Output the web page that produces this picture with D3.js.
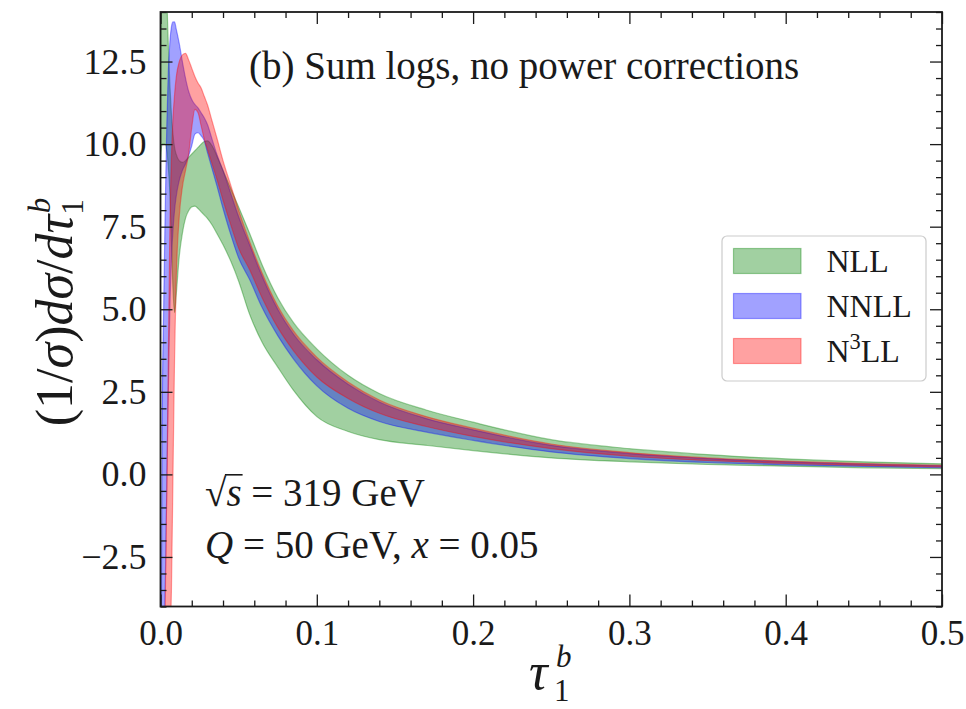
<!DOCTYPE html>
<html>
<head>
<meta charset="utf-8">
<script src="https://cdn.jsdelivr.net/npm/d3@7"></script>
<style>
  body { margin: 0; background: #fff; }
  svg { display: block; }
  text { font-family: "Liberation Serif", "DejaVu Serif", serif; fill: #1a1a1a; }
</style>
</head>
<body>
<svg id="chart" width="966" height="709"></svg>
<script>
// tau_1^b sample points and the scale-variation envelopes for each order
const tau = [0, 0.001, 0.002, 0.003, 0.004, 0.005, 0.006, 0.007, 0.008, 0.009,
             0.010, 0.012, 0.014, 0.016, 0.018, 0.020, 0.022, 0.024, 0.026, 0.028,
             0.030, 0.033, 0.036, 0.040, 0.045, 0.050, 0.057, 0.065, 0.075, 0.085,
             0.100, 0.120, 0.140, 0.170, 0.200, 0.250, 0.300, 0.350, 0.400, 0.450, 0.500];

const nllLo = [9.5, 10, 10, 10, 9.8, 9.3, 8.5, 7.0, 5.6, 4.9,
               5.4, 6.6, 7.3, 7.75, 7.98, 8.1, 8.12, 8.05, 7.95, 7.85,
               7.75, 7.55, 7.3, 6.95, 6.45, 5.85, 4.85, 4.0, 3.25, 2.55,
               1.75, 1.3, 1.05, 0.88, 0.72, 0.5, 0.38, 0.3, 0.25, 0.2, 0.17];
const nllHi = [12, 16, 16, 15.5, 14.5, 13, 11.8, 10.9, 10.3, 9.9,
               9.7, 9.5, 9.45, 9.5, 9.6, 9.7, 9.8, 9.9, 10.0, 10.08,
               10.1, 9.95, 9.65, 9.2, 8.65, 8.1, 7.3, 6.35, 5.35, 4.6,
               3.8, 3.0, 2.45, 1.95, 1.58, 1.05, 0.78, 0.6, 0.47, 0.38, 0.32];

const nnllLo = [-14, -9, -6, -3.5, -0.5, 2.5, 5, 6.5, 7.4, 8.0,
                8.4, 8.9, 9.2, 9.4, 9.65, 9.95, 10.3, 10.35, 10.25, 10.1,
                9.75, 9.25, 8.75, 8.05, 7.25, 6.55, 5.9, 5.05, 4.2, 3.5,
                2.68, 2.0, 1.6, 1.28, 1.03, 0.68, 0.48, 0.36, 0.29, 0.24, 0.2];
const nnllHi = [-12, 1, 5, 8, 10.5, 12.2, 13.1, 13.55, 13.7, 13.7,
                13.5, 13.05, 12.5, 12.0, 11.6, 11.35, 11.2, 11.1, 10.95, 10.8,
                10.6, 10.15, 9.7, 9.2, 8.5, 7.8, 6.95, 6.0, 5.0, 4.25,
                3.47, 2.73, 2.19, 1.69, 1.35, 0.88, 0.63, 0.48, 0.38, 0.31, 0.26];

const n3llLo = [-16, -15, -14, -12, -10, -8, -5.5, -3.5, 0, 3.5,
                5.8, 7.8, 8.7, 9.2, 9.7, 10.5, 11.05, 10.95, 10.55, 10.15,
                9.85, 9.4, 8.95, 8.3, 7.55, 6.85, 6.2, 5.35, 4.45, 3.75,
                2.95, 2.3, 1.85, 1.45, 1.15, 0.78, 0.55, 0.42, 0.33, 0.27, 0.23];
const n3llHi = [-14, -10, -7, -4, -0.5, 3.5, 7.5, 9.6, 10.8, 11.5,
                12.0, 12.5, 12.7, 12.75, 12.55, 12.3, 12.05, 11.85, 11.7, 11.45,
                11.2, 10.7, 10.2, 9.5, 8.75, 8.0, 7.05, 6.1, 5.1, 4.35,
                3.55, 2.8, 2.25, 1.75, 1.4, 0.92, 0.66, 0.5, 0.4, 0.33, 0.27];

const seriesKeys   = ["NLL", "NNLL", "N3LL"];
const seriesColors = ["#008000", "#0000ff", "#ff0000"];

const xTicks = [0, 0.1, 0.2, 0.3, 0.4, 0.5];
const yTicks = [-2.5, 0, 2.5, 5, 7.5, 10, 12.5];
const xDomain = [0, 0.5];
const yDomain = [-4, 14];

// ---- layout ----
const plot = { left: 160.5, right: 942, top: 12, bottom: 606.5 };
const bandAlpha = 0.37;

const svg = d3.select("#chart");

const x = d3.scaleLinear().domain(xDomain).range([plot.left, plot.right]);
const y = d3.scaleLinear().domain(yDomain).range([plot.bottom, plot.top]);

svg.append("defs").append("clipPath").attr("id", "plot-clip")
  .append("rect")
  .attr("x", plot.left).attr("y", plot.top)
  .attr("width", plot.right - plot.left).attr("height", plot.bottom - plot.top);

// ---- uncertainty bands ----
const bands = [
  { key: seriesKeys[0], color: seriesColors[0], lo: nllLo,  hi: nllHi  },
  { key: seriesKeys[1], color: seriesColors[1], lo: nnllLo, hi: nnllHi },
  { key: seriesKeys[2], color: seriesColors[2], lo: n3llLo, hi: n3llHi }
];

const area = d3.area()
  .x(d => x(d.t))
  .y0(d => y(d.lo))
  .y1(d => y(d.hi))
  .curve(d3.curveMonotoneX);

const bandLayer = svg.append("g").attr("clip-path", "url(#plot-clip)");
bands.forEach(b => {
  const rows = tau.map((t, i) => ({ t, lo: b.lo[i], hi: b.hi[i] }));
  bandLayer.append("path")
    .datum(rows)
    .attr("d", area)
    .attr("fill", b.color)
    .attr("fill-opacity", bandAlpha)
    .attr("stroke", b.color)
    .attr("stroke-opacity", bandAlpha)
    .attr("stroke-width", 1.2);
});

// ---- axes: inward ticks on all four sides ----
const majorLen = 12, minorLen = 6;
const xMinor = d3.range(0, 0.5001, 0.02).filter(v => !xTicks.some(t => Math.abs(t - v) < 1e-9));
const yMinor = d3.range(-4, 14.001, 0.5).filter(v => !yTicks.some(t => Math.abs(t - v) < 1e-9));

function styleAxis(g, showLabels, fontSize) {
  g.select(".domain").remove();
  g.selectAll(".tick line").attr("stroke", "#1a1a1a").attr("stroke-width", 1.3);
  if (!showLabels) g.selectAll(".tick text").remove();
  else g.selectAll(".tick text")
        .attr("font-size", fontSize).attr("fill", "#1a1a1a");
}

// bottom
svg.append("g").attr("transform", `translate(0,${plot.bottom})`)
  .call(d3.axisBottom(x).tickValues(xMinor).tickSize(-minorLen).tickFormat(""))
  .call(g => styleAxis(g, false));
svg.append("g").attr("transform", `translate(0,${plot.bottom})`)
  .call(d3.axisBottom(x).tickValues(xTicks).tickSizeInner(-majorLen).tickSizeOuter(0)
        .tickPadding(14).tickFormat(d3.format(".1f")))
  .call(g => styleAxis(g, true, 35));
// top
svg.append("g").attr("transform", `translate(0,${plot.top})`)
  .call(d3.axisTop(x).tickValues(xMinor).tickSize(-minorLen).tickFormat(""))
  .call(g => styleAxis(g, false));
svg.append("g").attr("transform", `translate(0,${plot.top})`)
  .call(d3.axisTop(x).tickValues(xTicks).tickSize(-majorLen).tickFormat(""))
  .call(g => styleAxis(g, false));
// left
svg.append("g").attr("transform", `translate(${plot.left},0)`)
  .call(d3.axisLeft(y).tickValues(yMinor).tickSize(-minorLen).tickFormat(""))
  .call(g => styleAxis(g, false));
svg.append("g").attr("transform", `translate(${plot.left},0)`)
  .call(d3.axisLeft(y).tickValues(yTicks).tickSizeInner(-majorLen).tickSizeOuter(0)
        .tickPadding(14).tickFormat(d3.format(".1f")))
  .call(g => styleAxis(g, true, 36));
// right
svg.append("g").attr("transform", `translate(${plot.right},0)`)
  .call(d3.axisRight(y).tickValues(yMinor).tickSize(-minorLen).tickFormat(""))
  .call(g => styleAxis(g, false));
svg.append("g").attr("transform", `translate(${plot.right},0)`)
  .call(d3.axisRight(y).tickValues(yTicks).tickSize(-majorLen).tickFormat(""))
  .call(g => styleAxis(g, false));

// frame
svg.append("rect")
  .attr("x", plot.left).attr("y", plot.top)
  .attr("width", plot.right - plot.left).attr("height", plot.bottom - plot.top)
  .attr("fill", "none").attr("stroke", "#1a1a1a").attr("stroke-width", 1.8);

// ---- axis labels ----
const labFs = 52, scrFs = 31;

// x label: tau with stacked subscript 1 and superscript b
svg.append("text").attr("x", 529).attr("y", 689).attr("font-size", labFs)
  .attr("font-style", "italic").text("τ");
svg.append("text").attr("x", 556).attr("y", 667).attr("font-size", scrFs)
  .attr("font-style", "italic").text("b");
svg.append("text").attr("x", 554).attr("y", 701).attr("font-size", scrFs).text("1");

// y label, rotated
const yLab = svg.append("text")
  .attr("transform", "translate(72,312) rotate(-90)")
  .attr("text-anchor", "middle").attr("font-size", labFs);
[["(1/", false], ["σ", true], [")", false], ["dσ", true], ["/", false], ["dτ", true]]
  .forEach(([s, it]) => yLab.append("tspan").attr("font-style", it ? "italic" : "normal").text(s));
yLab.append("tspan").attr("font-size", scrFs).attr("dy", 11).text("1");
yLab.append("tspan").attr("font-size", scrFs).attr("font-style", "italic")
  .attr("dx", -scrFs * 0.45).attr("dy", -33).text("b");

// ---- annotations ----
const noteFs = 39;
svg.append("text")
  .attr("x", 249).attr("y", 79).attr("font-size", noteFs)
  .text("(b) Sum logs, no power corrections");

const rootLine = svg.append("text").attr("x", 205).attr("y", 506).attr("font-size", noteFs);
rootLine.append("tspan").text("√");
rootLine.append("tspan").attr("font-style", "italic").text("s");
rootLine.append("tspan").text(" = 319 GeV");
{
  const node = rootLine.node();
  const r = node.getExtentOfChar(0), s = node.getExtentOfChar(1);
  const yBar = 506 - noteFs * 0.80;
  svg.append("line")
    .attr("x1", r.x + r.width - 1.5).attr("x2", s.x + s.width + 1)
    .attr("y1", yBar).attr("y2", yBar)
    .attr("stroke", "#1a1a1a").attr("stroke-width", 1.6);
}

const qLine = svg.append("text").attr("x", 205).attr("y", 558).attr("font-size", noteFs);
qLine.append("tspan").attr("font-style", "italic").text("Q");
qLine.append("tspan").text(" = 50 GeV, ");
qLine.append("tspan").attr("font-style", "italic").text("x");
qLine.append("tspan").text(" = 0.05");

// ---- legend ----
const leg = svg.append("g");
leg.append("rect")
  .attr("x", 722).attr("y", 236).attr("width", 204).attr("height", 145).attr("rx", 5)
  .attr("fill", "#fff").attr("fill-opacity", 0.8)
  .attr("stroke", "#cccccc").attr("stroke-width", 1.2);
const legFs = 32;
bands.forEach((b, i) => {
  const y0 = 248.5 + i * 45;
  leg.append("rect")
    .attr("x", 733.5).attr("y", y0).attr("width", 67.5).attr("height", 25)
    .attr("fill", b.color).attr("fill-opacity", bandAlpha)
    .attr("stroke", b.color).attr("stroke-opacity", bandAlpha).attr("stroke-width", 1.2);
  const t = leg.append("text").attr("x", 826.5).attr("y", y0 + 23).attr("font-size", legFs);
  if (b.key === "N3LL") {
    t.append("tspan").text("N");
    t.append("tspan").attr("font-size", legFs * 0.7).attr("dy", -legFs * 0.38).text("3");
    t.append("tspan").attr("dy", legFs * 0.38).text("LL");
  } else {
    t.text(b.key);
  }
});
</script>
</body>
</html>
